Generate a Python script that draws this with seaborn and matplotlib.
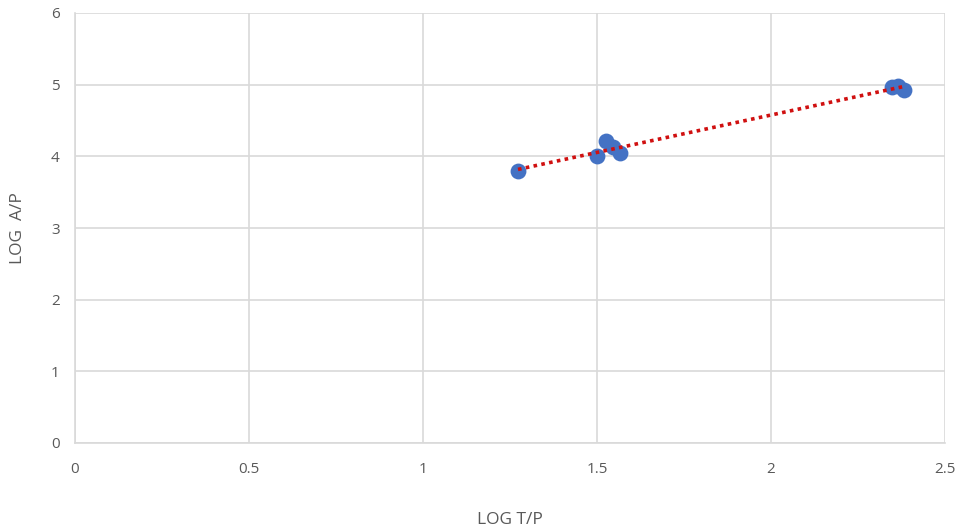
import numpy as np
import pandas as pd
import matplotlib
matplotlib.use("Agg")
import matplotlib.pyplot as plt
import seaborn as sns

# data
log_tp = [1.273, 1.500, 1.526, 1.546, 1.566, 2.348, 2.365, 2.382]
log_ap = [3.79, 4.005, 4.214, 4.13, 4.046, 4.967, 4.98, 4.92]
x_ticks = [0, 0.5, 1, 1.5, 2, 2.5]
y_ticks = [0, 1, 2, 3, 4, 5, 6]

df = pd.DataFrame({"LOG T/P": log_tp, "LOG A/P": log_ap})

sns.set_theme(style="white")
plt.rcParams["font.family"] = ["Open Sans", "DejaVu Sans"]

fig = plt.figure(figsize=(9.63, 5.31), dpi=100)
ax = fig.add_axes([75 / 963, 88 / 531, 870 / 963, 430 / 531])

sns.regplot(data=df, x="LOG T/P", y="LOG A/P", ax=ax, ci=None,
            scatter_kws={"s": 130, "color": "#4472C4", "alpha": 1, "linewidths": 0, "zorder": 3},
            line_kws={"color": "#D01010", "linestyle": (0, (1, 1.2)), "linewidth": 2.6, "zorder": 4})

ax.set_xlim(0, 2.5)
ax.set_ylim(0, 6)
ax.set_xticks(x_ticks)
ax.set_xticklabels([f"{t:g}" for t in x_ticks])
ax.set_yticks(y_ticks)
ax.grid(True, color="#D9D9D9", linewidth=1.2)
ax.set_axisbelow(True)
for s in ["top", "right"]:
    ax.spines[s].set_visible(False)
for s in ["left", "bottom"]:
    ax.spines[s].set_color("#D9D9D9")
    ax.spines[s].set_linewidth(1.2)
ax.tick_params(axis="both", length=0, labelsize=11, labelcolor="#595959")
ax.tick_params(axis="x", pad=14)
ax.tick_params(axis="y", pad=11)
ax.set_xlabel("LOG T/P", fontsize=12.5, color="#595959", labelpad=25)
ax.set_ylabel("LOG  A/P", fontsize=12.5, color="#595959", labelpad=18)

fig.savefig("out.png", dpi=100)
